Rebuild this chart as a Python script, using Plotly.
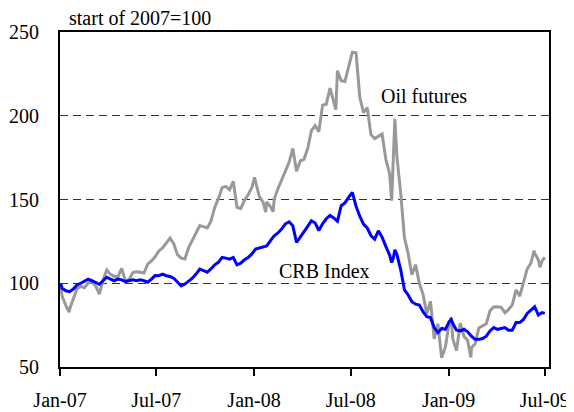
import pandas as pd
import plotly.graph_objects as go

# ---------------- data (index, start of 2007 = 100) ----------------
# weekly (Friday) observations, preceded by the start point and followed by the end point
start_date = "2007-01-02"
end_date = "2009-07-01"
weekly_first = "2007-01-05"
weekly_last = "2009-06-26"

oil_weekly = [
    100.0,
    # 2007
    92.2, 86.8, 84.5, 90.8,
    96.7, 98.1, 97.3, 100.1,
    101.0, 98.4, 93.5, 102.0, 107.9,
    105.3, 104.2, 103.8, 108.9,
    101.4, 102.2, 106.4, 106.8,
    106.6, 106.1, 111.4, 113.3, 115.8,
    119.3, 121.1, 123.8, 127.0,
    123.6, 117.1, 115.0, 114.5, 121.3,
    125.6, 129.6, 134.5, 133.8,
    133.0, 137.1, 145.1, 150.5,
    157.1, 157.8, 155.8, 160.8, 145.3,
    144.6, 149.5, 152.8, 157.2,
    # 2008
    160.4, 151.8, 148.4, 148.6,
    145.7, 150.3, 156.4, 161.9, 166.8,
    172.2, 180.5, 166.8, 173.0,
    174.0, 180.4, 191.1, 194.1,
    190.5, 206.3, 206.9, 216.5, 208.6,
    226.9, 220.9, 220.5, 229.7,
    238.0, 237.6, 211.1, 201.9,
    204.9, 188.7, 186.4, 187.7, 189.1,
    174.0, 165.7, 171.3, 175.1,
    153.8, 127.3, 117.7, 105.1, 111.1,
    100.0, 93.4, 81.8, 89.2,
    66.8, 75.8, 55.5, 61.8,
    # 2009
    75.9, 66.9, 59.8, 76.1, 68.3,
    65.8, 61.4, 63.8, 73.3,
    74.6, 75.8, 83.6, 85.8,
    86.0, 85.6, 82.4, 84.4,
    87.1, 96.0, 92.3, 101.0, 108.6,
    112.1, 118.0, 113.9, 113.3,
    115.5,
]
oil_extra_dates = ["2007-01-18", "2008-01-02", "2008-01-23", "2008-02-06",
                   "2008-06-03", "2008-09-16", "2008-09-22",
                   "2009-01-06", "2009-02-12", "2009-06-11", "2009-06-22"]
oil_extra_values = [82.7, 163.2, 142.5, 142.7, 203.6, 149.3, 198.1,
                    79.6, 55.7, 119.5, 109.6]

crb_weekly = [
    100.0,
    # 2007
    97.0, 95.5, 95.0, 96.5,
    99.0, 100.0, 101.0, 102.4,
    101.5, 100.5, 99.4, 101.5, 103.6,
    102.5, 101.5, 102.5, 102.0,
    101.0, 101.5, 102.0, 101.5,
    102.0, 101.5, 100.6, 102.5, 104.6,
    104.5, 105.4, 104.5, 104.0,
    103.0, 101.0, 98.4, 99.5, 101.0,
    103.0, 105.5, 108.4, 107.5,
    106.6, 108.5, 111.0, 112.5,
    115.4, 115.0, 114.4, 115.4, 111.0,
    112.0, 114.0, 115.4, 117.5,
    # 2008
    120.4, 121.0, 121.5, 122.3,
    125.5, 128.3, 130.0, 132.3, 135.5,
    136.7, 134.3, 124.4, 127.5,
    130.4, 134.0, 137.3, 136.0,
    131.5, 135.5, 138.5, 140.5, 139.0,
    137.0, 146.3, 148.0, 151.3,
    154.3, 146.0, 140.0, 135.3,
    133.0, 128.5, 126.3, 131.3, 127.5,
    122.0, 117.0, 115.0, 117.0,
    108.0, 96.0, 93.0, 89.0, 87.5,
    87.0, 83.0, 80.0, 79.5,
    73.5, 70.5, 73.0, 72.5,
    # 2009
    77.0, 76.0, 72.0, 71.5, 72.5,
    71.0, 68.4, 66.5, 66.5,
    67.0, 68.4, 71.5, 73.5,
    72.5, 73.0, 73.5, 72.0,
    72.0, 76.5, 76.5, 78.4, 82.0,
    84.0, 86.0, 81.0, 82.5,
    82.0,
]
crb_extra_dates = ["2008-09-16", "2008-09-22", "2009-01-06"]
crb_extra_values = [112.4, 120.0, 78.4]

x_tick_dates = ["2007-01-01", "2007-07-01", "2008-01-01", "2008-07-01", "2009-01-01", "2009-07-01"]
x_tick_labels = ["Jan-07", "Jul-07", "Jan-08", "Jul-08", "Jan-09", "Jul-09"]
y_ticks = [50, 100, 150, 200, 250]

unit_label = "start of 2007=100"
oil_label = "Oil futures"
crb_label = "CRB Index"

# ---------------- build series ----------------
weekly_dates = ([pd.Timestamp(start_date)]
                + list(pd.date_range(weekly_first, weekly_last, freq="W-FRI"))
                + [pd.Timestamp(end_date)])


def build(values, extra_dates, extra_values):
    s = pd.Series(values, index=weekly_dates)
    e = pd.Series(extra_values, index=pd.to_datetime(extra_dates))
    return pd.concat([s, e]).sort_index()


oil = build(oil_weekly, oil_extra_dates, oil_extra_values)
crb = build(crb_weekly, crb_extra_dates, crb_extra_values)

FONT = "Liberation Serif, Times New Roman, serif"
FS = 20

fig = go.Figure()
fig.add_trace(go.Scatter(x=oil.index, y=oil.values, mode="lines",
                         line=dict(color="#999999", width=3), name=oil_label))
fig.add_trace(go.Scatter(x=crb.index, y=crb.values, mode="lines",
                         line=dict(color="#0000FF", width=3), name=crb_label))

fig.add_annotation(x=0.014, y=1.0, xref="paper", yref="paper", yshift=4,
                   xanchor="left", yanchor="bottom", height=17, valign="middle",
                   text=unit_label, showarrow=False,
                   font=dict(family=FONT, size=FS, color="black"))
fig.add_annotation(x="2008-11-15", y=212, text=oil_label, showarrow=False,
                   font=dict(family=FONT, size=FS, color="black"))
fig.add_annotation(x="2008-05-12", y=107.5, text=crb_label, showarrow=False,
                   font=dict(family=FONT, size=FS, color="black"))

# the page adds an 8px body margin, so margins are shifted by 8px
fig.update_layout(
    width=574, height=412,
    margin=dict(l=52, r=33, t=24, b=53),
    paper_bgcolor="white", plot_bgcolor="white",
    showlegend=False,
    font=dict(family=FONT, size=FS, color="black"),
)
fig.update_xaxes(
    type="date", range=["2007-01-01", "2009-07-09"],
    tickvals=x_tick_dates, ticktext=x_tick_labels,
    ticks="outside", ticklen=7, tickwidth=2, tickcolor="black",
    ticklabelstandoff=7,
    showline=True, linecolor="black", linewidth=2, mirror=True,
    showgrid=False, zeroline=False, automargin=False,
    tickfont=dict(family=FONT, size=FS, color="black"),
)
fig.update_yaxes(
    range=[50, 250], tickvals=y_ticks,
    ticks="", ticklabelstandoff=15,
    showline=True, linecolor="black", linewidth=2, mirror=True,
    showgrid=True, gridcolor="#333333", gridwidth=1, griddash="8px,5px",
    zeroline=False, automargin=False,
    tickfont=dict(family=FONT, size=FS, color="black"),
)

fig.write_html("out.html")
